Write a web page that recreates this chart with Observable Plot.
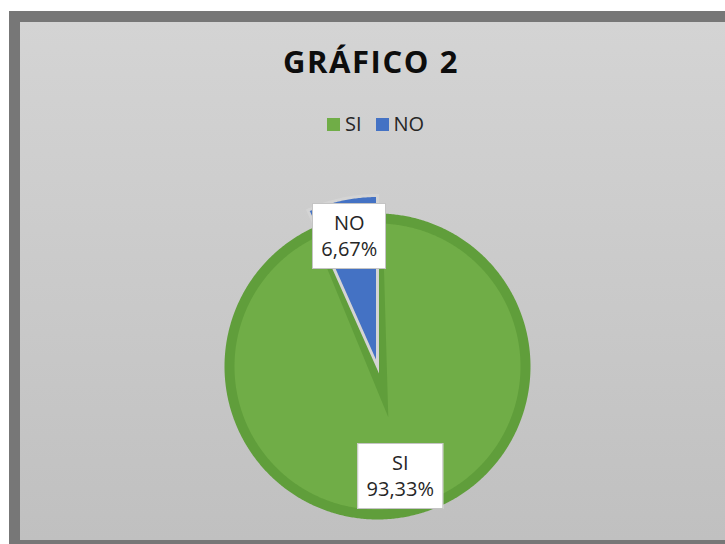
<!DOCTYPE html>
<html>
<head>
<meta charset="utf-8">
<script src="https://cdn.jsdelivr.net/npm/d3@7"></script>
<script src="https://cdn.jsdelivr.net/npm/@observablehq/plot@0.6"></script>
<style>
  html, body { margin: 0; padding: 0; background: #ffffff; }
  #wrap { position: relative; width: 725px; height: 544px; overflow: hidden; background: #ffffff; font-family: "Open Sans", sans-serif; }
  #frame { position: absolute; left: 9px; top: 11px; width: 730px; height: 533px; background: #777777; }
  #inner { position: absolute; left: 20px; top: 22px; width: 720px; height: 518px; background: linear-gradient(180deg, #d4d4d4 0%, #cacaca 50%, #c0c0c0 100%); }
  #title { position: absolute; left: 221px; top: 46px; width: 300px; text-align: center; font-size: 31px; line-height: 30px; font-weight: 700; letter-spacing: 1.6px; color: #0d0d0d; }
  #legend { position: absolute; left: 327px; top: 114px; height: 20px; display: flex; align-items: center; font-size: 20px; line-height: 20px; color: #262626; }
  .sw { display: inline-block; width: 13px; height: 13px; margin-right: 5px; }
  .item { display: flex; align-items: center; margin-right: 14px; }
  .lab { position: absolute; transform: translate(-50%, -50%); background: #ffffff; border: 1.5px solid #c4c4c4; padding: 6px 8px; font-size: 20px; line-height: 26px; text-align: center; color: #262626; white-space: nowrap; }
  #plot { position: absolute; left: 0; top: 0; }
</style>
</head>
<body>
<div id="wrap">
  <div id="frame"></div>
  <div id="inner"></div>
  <div id="plot"></div>
  <div id="title"></div>
  <div id="legend"></div>
</div>
<script>
// ---- data ----
const categories = ["SI", "NO"];
const values = [93.33, 6.67];
const chartTitle = "GRÁFICO 2";

// ---- styles (kept apart from the data) ----
const colors = { SI: "#70ad47", NO: "#4472c4" };
const sliceStyle = {
  SI: { stroke: "#609e3b", strokeWidth: 10, r: 148, labelR: 112, apexShift: 24 },
  NO: { stroke: "#d4d4d4", strokeWidth: 3, r: 171, labelR: 133, apexShift: 0 }
};
const W = 725, H = 544;
const center = { px: 377, py: 366 }; // pie centre in page pixels

const rows = categories.map((c, i) => ({ key: c, value: values[i] }));
const arcs = d3.pie().sort(null).value(d => d.value)(rows);

// polygon vertices for every slice (unit = pixel, origin = pie centre, y up)
const points = [];
arcs.forEach(a => {
  const s = sliceStyle[a.data.key];
  const mid = (a.startAngle + a.endAngle) / 2;
  points.push({ key: a.data.key, x: s.apexShift * Math.sin(mid), y: s.apexShift * Math.cos(mid) });
  const steps = Math.max(8, Math.ceil((a.endAngle - a.startAngle) / (Math.PI / 360)));
  for (let k = 0; k <= steps; k++) {
    const t = a.startAngle + (a.endAngle - a.startAngle) * k / steps;
    points.push({ key: a.data.key, x: s.r * Math.sin(t), y: s.r * Math.cos(t) });
  }
});

const plot = Plot.plot({
  width: W,
  height: H,
  margin: 0,
  style: { background: "transparent", overflow: "visible" },
  x: { domain: [-center.px, W - center.px], axis: null },
  y: { domain: [-(H - center.py), center.py], axis: null },
  marks: categories.map(c =>
    Plot.line(points.filter(p => p.key === c), {
      x: "x", y: "y",
      curve: "linear-closed",
      fill: colors[c],
      stroke: sliceStyle[c].stroke,
      strokeWidth: sliceStyle[c].strokeWidth,
      strokeLinejoin: "miter",
      strokeMiterlimit: 6
    })
  )
});
document.getElementById("plot").appendChild(plot);

// title
document.getElementById("title").textContent = chartTitle;

// legend
const legend = document.getElementById("legend");
categories.forEach(c => {
  const it = document.createElement("div");
  it.className = "item";
  const sw = document.createElement("span");
  sw.className = "sw";
  sw.style.background = colors[c];
  const tx = document.createElement("span");
  tx.textContent = c;
  it.appendChild(sw);
  it.appendChild(tx);
  legend.appendChild(it);
});

// data labels, placed through the plot's own scales
const xs = plot.scale("x"), ys = plot.scale("y");
const fmt = v => v.toFixed(2).replace(".", ",") + "%";
const wrap = document.getElementById("wrap");
arcs.forEach(a => {
  const s = sliceStyle[a.data.key];
  const mid = (a.startAngle + a.endAngle) / 2;
  const lx = xs.apply(s.labelR * Math.sin(mid));
  const ly = ys.apply(s.labelR * Math.cos(mid));
  const d = document.createElement("div");
  d.className = "lab";
  d.style.left = lx + "px";
  d.style.top = ly + "px";
  const l1 = document.createElement("div"); l1.textContent = a.data.key;
  const l2 = document.createElement("div"); l2.textContent = fmt(a.data.value);
  d.appendChild(l1); d.appendChild(l2);
  wrap.appendChild(d);
});
</script>
</body>
</html>
